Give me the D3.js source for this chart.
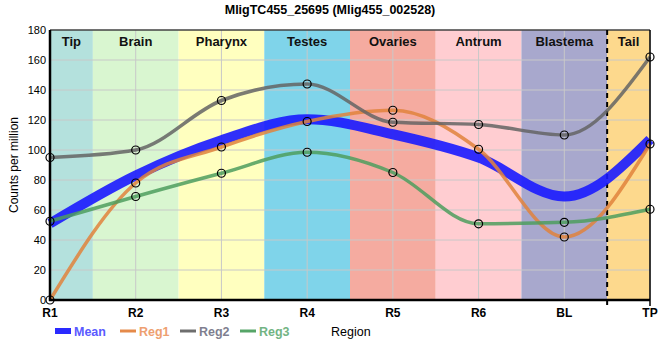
<!DOCTYPE html>
<html><head><meta charset="utf-8">
<script src="https://cdn.jsdelivr.net/npm/d3@7"></script>
<style>body{margin:0;background:#fff;} svg{display:block;font-family:"Liberation Sans",Arial,sans-serif;}</style>
</head><body><svg id="c" width="660" height="360"></svg>
<script>
const categories = ["R1","R2","R3","R4","R5","R6","BL","TP"];
const regions = ["Tip","Brain","Pharynx","Testes","Ovaries","Antrum","Blastema","Tail"];
const regionColors = ["#b4e1dd","#d9f6d0","#ffffbf","#7fd4ea","#f5aba0","#ffcdd1","#a8a8cd","#fdd98d"];
const regionStart = [0,0.5,1.5,2.5,3.5,4.5,5.5,6.5];
const regionEnd = [0.5,1.5,2.5,3.5,4.5,5.5,6.5,7];
const meanVals = [51,83,106.5,120.5,110.5,95,69,107];
const reg1 = [0,78,102,119,126.5,100.5,42,104];
const reg2 = [95,100,133,144,118.5,117,110,162];
const reg3 = [52.5,69,84.5,98.5,85,50.8,51.8,60.5];
const yTicks = [0,20,40,60,80,100,120,140,160,180];
const title = "MligTC455_25695 (Mlig455_002528)";

const svg = d3.select("#c");
const L=50,R=650,T=30,B=300;
const x = d3.scaleLinear().domain([0,categories.length-1]).range([L,R]);
const y = d3.scaleLinear().domain([0,180]).range([B,T]);

// region bands
svg.selectAll("rect.band").data(regions).enter().append("rect")
  .attr("x",(d,i)=>x(regionStart[i])).attr("y",T)
  .attr("width",(d,i)=>x(regionEnd[i])-x(regionStart[i])).attr("height",B-T)
  .attr("fill",(d,i)=>regionColors[i]);

// grid
svg.append("g").selectAll("line").data(yTicks).enter().append("line")
  .attr("x1",L).attr("x2",R).attr("y1",d=>y(d)).attr("y2",d=>y(d))
  .attr("stroke","#c8c8c8").attr("stroke-width",1);
svg.append("g").selectAll("line").data(categories).enter().append("line")
  .attr("x1",(d,i)=>x(i)).attr("x2",(d,i)=>x(i)).attr("y1",T).attr("y2",B)
  .attr("stroke","#c8c8c8").attr("stroke-width",1);

// region labels
svg.append("g").selectAll("text").data(regions).enter().append("text")
  .attr("x",(d,i)=>(x(regionStart[i])+x(regionEnd[i]))/2).attr("y",46)
  .attr("text-anchor","middle").attr("font-size",13).attr("font-weight","bold")
  .attr("fill","#111").text(d=>d);

// dashed separator
svg.append("line").attr("x1",x(6.5)).attr("x2",x(6.5)).attr("y1",T).attr("y2",B+6)
  .attr("stroke","#000").attr("stroke-width",2).attr("stroke-dasharray","5,4");

// lines
const line = d3.line().x((d,i)=>x(i)).y(d=>y(d)).curve(d3.curveMonotoneX);
const series = [
  {vals:reg1,color:"#e0833c",w:3.5,op:0.85},
  {vals:reg2,color:"#646464",w:3.5,op:0.85},
  {vals:reg3,color:"#4d9e5e",w:3.5,op:0.85}
];
svg.append("path").attr("d",line(meanVals)).attr("fill","none")
  .attr("stroke","#1a1aff").attr("stroke-width",10).attr("stroke-opacity",0.9);
series.forEach(s=>{
  svg.append("path").attr("d",line(s.vals)).attr("fill","none")
    .attr("stroke",s.color).attr("stroke-width",s.w).attr("stroke-opacity",s.op);
});
series.forEach(s=>{
  svg.append("g").selectAll("circle").data(s.vals).enter().append("circle")
    .attr("cx",(d,i)=>x(i)).attr("cy",d=>y(d)).attr("r",4)
    .attr("fill","none").attr("stroke","#000").attr("stroke-width",1.2);
});

// axes frame
svg.append("line").attr("x1",L).attr("x2",R).attr("y1",T).attr("y2",T).attr("stroke","#000").attr("stroke-width",1);
svg.append("line").attr("x1",R).attr("x2",R).attr("y1",T).attr("y2",B+6).attr("stroke","#000").attr("stroke-width",1.5);
svg.append("line").attr("x1",L).attr("x2",L).attr("y1",T).attr("y2",B+1).attr("stroke","#000").attr("stroke-width",2.5);
svg.append("line").attr("x1",L-1).attr("x2",R).attr("y1",B).attr("y2",B).attr("stroke","#000").attr("stroke-width",2.5);

// y tick labels
svg.append("g").selectAll("text").data(yTicks).enter().append("text")
  .attr("x",L-4).attr("y",d=>y(d)+4).attr("text-anchor","end").attr("font-size",11)
  .attr("fill","#000").text(d=>d);
// x tick labels
svg.append("g").selectAll("text").data(categories).enter().append("text")
  .attr("x",(d,i)=>x(i)).attr("y",317).attr("text-anchor","middle").attr("font-size",12)
  .attr("font-weight","bold").attr("fill","#000").text(d=>d);

// title and axis labels
svg.append("text").attr("x",330).attr("y",14).attr("text-anchor","middle")
  .attr("font-size",12.5).attr("font-weight","bold").text(title);
svg.append("text").attr("transform","translate(18,165) rotate(-90)").attr("text-anchor","middle")
  .attr("font-size",12).text("Counts per million");

// legend
const legend = [
  {name:"Mean",color:"#2a2aff",tc:"#5a5aff",w:6,x:55},
  {name:"Reg1",color:"#e58a4a",tc:"#eea070",w:3,x:120},
  {name:"Reg2",color:"#6e6e6e",tc:"#7f7f8f",w:3,x:180},
  {name:"Reg3",color:"#56a568",tc:"#72b483",w:3,x:240}
];
legend.forEach(l=>{
  svg.append("line").attr("x1",l.x).attr("x2",l.x+16).attr("y1",331).attr("y2",331)
    .attr("stroke",l.color).attr("stroke-width",l.w);
  svg.append("text").attr("x",l.x+19).attr("y",335.5).attr("font-size",12.5)
    .attr("font-weight","bold").attr("fill",l.tc).text(l.name);
});
svg.append("text").attr("x",331).attr("y",336).attr("font-size",12.5).attr("fill","#000").text("Region");
</script></body></html>
